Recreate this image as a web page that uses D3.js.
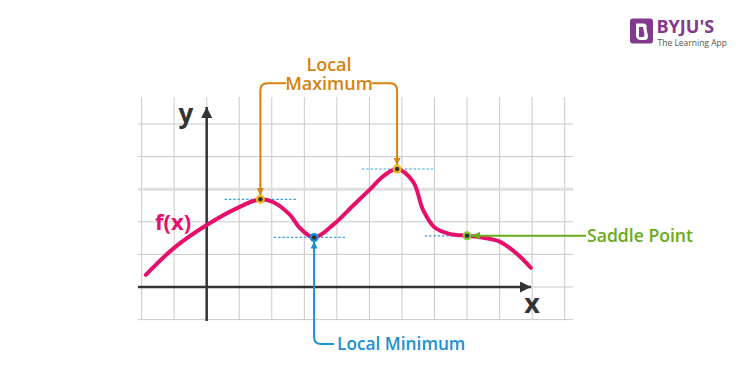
<!DOCTYPE html>
<html><head><meta charset="utf-8">
<script src="https://cdn.jsdelivr.net/npm/d3@7"></script>
<style>
html,body{margin:0;padding:0;background:#fff;}
svg{display:block;font-family:"Open Sans",sans-serif;}
</style></head>
<body><svg id="c" width="750" height="370"></svg>
<script>
// ---- data (grid units) ----
const curveX = [-1.87, -1.0, 0.0, 1.0, 1.65, 2.05, 2.56, 2.87, 3.30, 3.9, 4.5, 5.0, 5.43, 5.85, 6.34, 6.65, 6.98, 7.46, 8.0, 8.5, 9.0, 9.52, 9.96];
const curveY = [0.37, 1.2, 1.9, 2.45, 2.69, 2.60, 2.21, 1.80, 1.52, 1.92, 2.50, 2.98, 3.40, 3.62, 3.23, 2.36, 1.85, 1.63, 1.57, 1.51, 1.39, 1.03, 0.59];
const gridX = [-2, -1, 0, 1, 2, 3, 4, 5, 6, 7, 8, 9, 10, 11];
const gridY = [-1, 0, 1, 2, 3, 4, 5];
const pointNames = ["Local Maximum", "Local Minimum", "Local Maximum", "Saddle Point"];
const pointX = [1.65, 3.30, 5.85, 8.0];
const pointY = [2.69, 1.52, 3.62, 1.57];
const tangentLeft = [1.1, 1.24, 1.08, 1.3];
const tangentRight = [1.1, 0.98, 1.13, 0.25];
const axisLabels = ["x", "y"];
const funcLabel = "f(x)";

// ---- layout ----
const svg = d3.select("#c");
const x = d3.scaleLinear().domain([-2, 11]).range([141.6, 564.7]);
const y = d3.scaleLinear().domain([-1, 5]).range([319.6, 124]);
const gridTop = 97, gridBottom = 320, gridLeft = 138, gridRight = 573;

const cOrange = "#d6820f", cBlue = "#1b8fd8", cGreen = "#6aab1a", cMag = "#e6106c", cAxis = "#333";

const defs = svg.append("defs");
function marker(id, color, w, h) {
  defs.append("marker").attr("id", id).attr("viewBox", "0 0 10 10")
    .attr("refX", 10).attr("refY", 5).attr("markerWidth", w).attr("markerHeight", h)
    .attr("markerUnits", "userSpaceOnUse").attr("orient", "auto")
    .append("path").attr("d", "M0,0L10,5L0,10Z").attr("fill", color);
}
marker("mO", cOrange, 8, 7);
marker("mB", cBlue, 8, 7);
marker("mG", cGreen, 10, 8);
marker("mA", cAxis, 12, 11);

// grid
const g = svg.append("g");
g.selectAll("line.v").data(gridX).join("line")
  .attr("x1", d => x(d)).attr("x2", d => x(d)).attr("y1", gridTop).attr("y2", gridBottom)
  .attr("stroke", "#c9c9c9").attr("stroke-width", 1);
g.selectAll("line.h").data(gridY).join("line")
  .attr("x1", gridLeft).attr("x2", gridRight).attr("y1", d => y(d)).attr("y2", d => y(d))
  .attr("stroke", d => d === 3 ? "#e0e0e0" : "#c9c9c9").attr("stroke-width", d => d === 3 ? 3 : 1);

// axes
svg.append("line").attr("x1", gridLeft).attr("x2", 531).attr("y1", y(0)).attr("y2", y(0))
  .attr("stroke", cAxis).attr("stroke-width", 2.5).attr("marker-end", "url(#mA)");
svg.append("line").attr("x1", x(0)).attr("x2", x(0)).attr("y1", 321).attr("y2", 107)
  .attr("stroke", cAxis).attr("stroke-width", 2.5).attr("marker-end", "url(#mA)");
svg.append("text").attr("x", 532).attr("y", 312.5).attr("text-anchor", "middle")
  .attr("font-size", 27).attr("font-weight", 700).attr("fill", cAxis).text(axisLabels[0]);
svg.append("text").attr("x", 186).attr("y", 123).attr("text-anchor", "middle")
  .attr("font-size", 26).attr("font-weight", 700).attr("fill", cAxis).text(axisLabels[1]);

// tangents
const pts = pointX.map((d, i) => ({x: d, y: pointY[i], l: tangentLeft[i], r: tangentRight[i], name: pointNames[i]}));
svg.selectAll("line.t").data(pts).join("line")
  .attr("x1", d => x(d.x - d.l)).attr("x2", d => x(d.x + d.r))
  .attr("y1", d => y(d.y)).attr("y2", d => y(d.y))
  .attr("stroke", "#3aa0e0").attr("stroke-width", 1.2).attr("stroke-dasharray", "2.5,1.8");

// curve
const line = d3.line().x(d => x(d[0])).y(d => y(d[1])).curve(d3.curveCatmullRom.alpha(0.5));
svg.append("path").datum(curveX.map((d, i) => [d, curveY[i]]))
  .attr("d", line).attr("fill", "none").attr("stroke", cMag).attr("stroke-width", 4)
  .attr("stroke-linecap", "round");

svg.append("text").attr("x", 155).attr("y", 230).attr("font-size", 22).attr("font-weight", 700)
  .attr("fill", cMag).text(funcLabel);

// annotation connectors
const r = 7;
const p0 = pts[0], p2 = pts[2], p1 = pts[1], p3 = pts[3];
let d0 = d3.path();
d0.moveTo(286, 83.3); d0.lineTo(x(p0.x) + r, 83.3);
d0.quadraticCurveTo(x(p0.x), 83.3, x(p0.x), 83.3 + r);
d0.lineTo(x(p0.x), y(p0.y) - 4);
svg.append("path").attr("d", d0.toString()).attr("fill", "none").attr("stroke", cOrange)
  .attr("stroke-width", 2).attr("marker-end", "url(#mO)");
let d2 = d3.path();
d2.moveTo(372, 83.3); d2.lineTo(x(p2.x) - r, 83.3);
d2.quadraticCurveTo(x(p2.x), 83.3, x(p2.x), 83.3 + r);
d2.lineTo(x(p2.x), y(p2.y) - 4);
svg.append("path").attr("d", d2.toString()).attr("fill", "none").attr("stroke", cOrange)
  .attr("stroke-width", 2).attr("marker-end", "url(#mO)");
svg.append("text").attr("x", 329).attr("y", 71).attr("text-anchor", "middle")
  .attr("font-size", 18).attr("font-weight", 600).attr("fill", cOrange).text("Local");
svg.append("text").attr("x", 329).attr("y", 89.5).attr("text-anchor", "middle")
  .attr("font-size", 18).attr("font-weight", 600).attr("fill", cOrange).text("Maximum");

// min
let d1 = d3.path();
d1.moveTo(334, 344); d1.lineTo(x(p1.x) + r, 344);
d1.quadraticCurveTo(x(p1.x), 344, x(p1.x), 344 - r);
d1.lineTo(x(p1.x), y(p1.y) + 4);
svg.append("path").attr("d", d1.toString()).attr("fill", "none").attr("stroke", cBlue)
  .attr("stroke-width", 2).attr("marker-end", "url(#mB)");
svg.append("text").attr("x", 337).attr("y", 350).attr("font-size", 17.3).attr("font-weight", 600)
  .attr("fill", cBlue).text("Local Minimum");

// saddle
svg.append("line").attr("x1", 586).attr("x2", x(p3.x) + 5).attr("y1", y(p3.y)).attr("y2", y(p3.y))
  .attr("stroke", cGreen).attr("stroke-width", 2).attr("marker-end", "url(#mG)");
svg.append("text").attr("x", 587).attr("y", 242).attr("font-size", 17.6).attr("font-weight", 600)
  .attr("fill", cGreen).text("Saddle Point");

// point markers
const ringCol = ["#f5b820", cBlue, "#f5b820", "#8cc43a"];
svg.selectAll("circle.p").data(pts).join("circle")
  .attr("cx", d => x(d.x)).attr("cy", d => y(d.y)).attr("r", 4.5)
  .attr("fill", (d, i) => ringCol[i]);
svg.selectAll("circle.q").data(pts).join("circle")
  .attr("cx", d => x(d.x)).attr("cy", d => y(d.y)).attr("r", 2.3)
  .attr("fill", "#333");

// logo
const lg = svg.append("g");
lg.append("rect").attr("x", 630).attr("y", 18.5).attr("width", 23).attr("height", 25).attr("rx", 3)
  .attr("fill", "#813a8d");
lg.append("path").attr("d", "M636,23.5 L644,23.5 Q647.5,24 646.5,29 L648,36 Q648,40.5 644,40 L640,40 Q636.5,39.5 636,36 Z")
  .attr("fill", "#fff");
lg.append("path").attr("d", "M639,27 L643,27 L644.5,35 Q644.5,37 642.5,37 L639,37 Z")
  .attr("fill", "#813a8d");
lg.append("text").attr("x", 656.5).attr("y", 33.3).attr("font-size", 18).attr("font-weight", 700)
  .attr("fill", "#813a8d").text("BYJU'S");
lg.append("text").attr("x", 657.5).attr("y", 45.5).attr("font-size", 8.5)
  .attr("fill", "#555").text("The Learning App");
</script></body></html>
